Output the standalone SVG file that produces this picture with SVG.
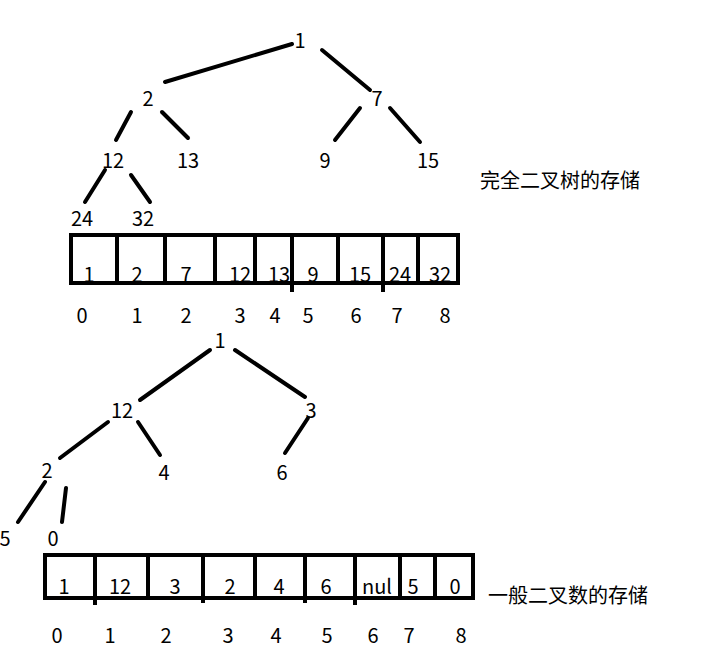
<svg xmlns="http://www.w3.org/2000/svg" width="702" height="653" viewBox="0 0 702 653">
<style>
text{font-family:"Noto Sans CJK SC","Noto Sans",sans-serif;font-size:20px;fill:#000;text-anchor:middle}
.l{text-anchor:start}
.e line{stroke:#000;stroke-width:4;stroke-linecap:round}
.a rect,.a line{stroke:#000;stroke-width:4;fill:none}
</style>
<rect width="702" height="653" fill="#fff"/>
<g class="e" id="connectors">
<line x1="165" y1="82" x2="292" y2="44"/><line x1="322" y1="50" x2="370" y2="90"/>
<line x1="131" y1="112" x2="116" y2="140"/><line x1="162" y1="112" x2="188" y2="138"/>
<line x1="360" y1="108" x2="335" y2="140"/><line x1="390" y1="108" x2="420" y2="142"/>
<line x1="105" y1="170" x2="85" y2="202"/><line x1="131" y1="175" x2="150" y2="202"/>
<line x1="210" y1="350" x2="140" y2="400"/><line x1="235" y1="350" x2="305" y2="397"/>
<line x1="108" y1="422" x2="60" y2="458"/><line x1="138" y1="422" x2="160" y2="455"/>
<line x1="308" y1="418" x2="285" y2="453"/><line x1="45" y1="482" x2="18" y2="522"/>
<line x1="66" y1="488" x2="62" y2="522"/>
</g>
<g id="tree1">
<text x="300" y="48">1</text><text x="148" y="106">2</text><text x="377" y="106">7</text>
<text x="113" y="168">12</text><text x="188" y="168">13</text><text x="325" y="168">9</text><text x="428" y="168">15</text>
<text x="82" y="226">24</text><text x="143" y="226">32</text>
</g>
<g id="array1" class="a">
<rect x="71" y="235" width="387" height="48"/>
<line x1="117" y1="235" x2="117" y2="283"/><line x1="165" y1="235" x2="165" y2="283"/>
<line x1="215" y1="235" x2="215" y2="283"/><line x1="255" y1="235" x2="255" y2="283"/>
<line x1="292" y1="235" x2="292" y2="292"/><line x1="338" y1="235" x2="338" y2="283"/>
<line x1="383" y1="235" x2="383" y2="292"/><line x1="418" y1="235" x2="418" y2="283"/>
</g>
<g id="array1-text">
<text x="89" y="282">1</text><text x="137" y="282">2</text><text x="186" y="282">7</text><text x="240" y="282">12</text><text x="279" y="282">13</text><text x="313" y="282">9</text><text x="360" y="282">15</text><text x="400" y="282">24</text><text x="440" y="282">32</text>
<text x="82" y="323">0</text><text x="137" y="323">1</text><text x="186" y="323">2</text><text x="240" y="323">3</text><text x="275" y="323">4</text><text x="308" y="323">5</text><text x="356" y="323">6</text><text x="397" y="323">7</text><text x="445" y="323">8</text>
<text class="l" x="480" y="188">完全二叉树的存储</text>
</g>
<g id="tree2">
<text x="220" y="348">1</text><text x="122" y="418">12</text><text x="311" y="418">3</text>
<text x="47" y="478">2</text><text x="164" y="480">4</text><text x="282" y="480">6</text>
<text x="5" y="546">5</text><text x="53" y="546">0</text>
</g>
<g id="array2" class="a">
<rect x="45" y="555" width="428" height="43"/>
<line x1="95" y1="555" x2="95" y2="605"/><line x1="148" y1="555" x2="148" y2="598"/>
<line x1="203" y1="555" x2="203" y2="603"/><line x1="255" y1="555" x2="255" y2="598"/>
<line x1="305" y1="555" x2="305" y2="603"/><line x1="355" y1="555" x2="355" y2="605"/>
<line x1="400" y1="555" x2="400" y2="598"/><line x1="435" y1="555" x2="435" y2="598"/>
</g>
<g id="array2-text">
<text x="64" y="594">1</text><text x="120" y="594">12</text><text x="175" y="594">3</text><text x="230" y="594">2</text><text x="279" y="594">4</text><text x="326" y="594">6</text><text x="377" y="594">nul</text><text x="413" y="594">5</text><text x="455" y="594">0</text>
<text x="57" y="643">0</text><text x="110" y="643">1</text><text x="166" y="643">2</text><text x="228" y="643">3</text><text x="276" y="643">4</text><text x="327" y="643">5</text><text x="373" y="643">6</text><text x="409" y="643">7</text><text x="461" y="643">8</text>
<text class="l" x="488" y="603">一般二叉数的存储</text>
</g>
</svg>
